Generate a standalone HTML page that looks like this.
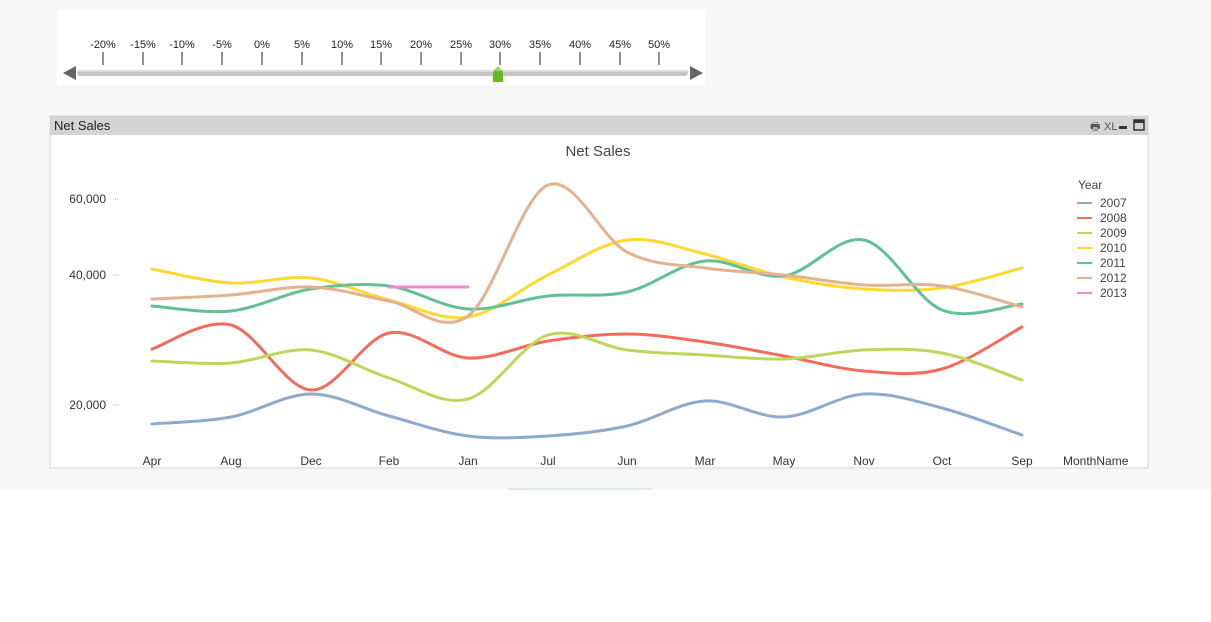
<!DOCTYPE html>
<html><head><meta charset="utf-8"><style>
body{margin:0;width:1211px;height:622px;background:#fff;font-family:"Liberation Sans",sans-serif;position:relative;overflow:hidden}
#bg{position:absolute;left:0;top:0;width:1211px;height:490px;background:#f7f7f7}
svg{position:absolute;left:0;top:0}
</style></head><body>
<div id="bg"></div>
<svg width="1211" height="622" id="s" font-family="Liberation Sans, sans-serif">
<rect x="57" y="10" width="648" height="75" fill="#fff"/>
<g id="sl" font-size="11" fill="#222" text-anchor="middle"></g>
<rect x="77" y="70" width="611" height="6" rx="3" fill="#c4c4c4"/>
<rect x="77" y="70" width="611" height="2" rx="1" fill="#dcdcdc"/>
<polygon points="63,73 76,66 76,80" fill="#666"/>
<polygon points="703,73 690,66 690,80" fill="#666"/>
<polygon points="493,71 498,66 503,71" fill="#9fd37a"/>
<rect x="493" y="71" width="10" height="11" rx="1" fill="#66bb22"/>
<rect x="50" y="116" width="1098" height="352" fill="#fff" stroke="#d6d6d6"/>
<rect x="50" y="116" width="1098" height="19" fill="#d4d4d4"/>
<text x="54" y="130" font-size="13" fill="#222">Net Sales</text>
<text x="1090" y="130" font-size="11" fill="#555">🖶</text>
<text x="1104" y="130" font-size="11" fill="#555">XL</text>
<rect x="1119" y="126" width="8" height="3" fill="#333"/>
<rect x="1134" y="120" width="10" height="10" fill="none" stroke="#333" stroke-width="1.5"/>
<rect x="1134" y="120" width="10" height="3" fill="#333"/>
<text x="598" y="156" font-size="15" fill="#444" text-anchor="middle">Net Sales</text>
<g font-size="12" fill="#333" text-anchor="end">
<text x="106" y="203">60,000</text><text x="106" y="279">40,000</text><text x="106" y="409">20,000</text></g>
<g stroke="#bbb" stroke-dasharray="1,1"><line x1="113" y1="199" x2="118" y2="199"/><line x1="113" y1="275" x2="118" y2="275"/><line x1="113" y1="405" x2="118" y2="405"/></g>
<g id="xl" font-size="12" fill="#333" text-anchor="middle"></g>
<text x="1063" y="465" font-size="12" fill="#333">MonthName</text>
<g id="lines" fill="none" stroke-width="3" stroke-linecap="round"></g>
<g id="leg" font-size="12" fill="#444"></g>
<text x="1078" y="189" font-size="12" fill="#444">Year</text>
<rect x="508" y="488" width="144" height="2" fill="#dde8f3"/>
</svg>
<script>
var NS="http://www.w3.org/2000/svg";
function el(p,t,a,txt){var e=document.createElementNS(NS,t);for(var k in a)e.setAttribute(k,a[k]);if(txt)e.textContent=txt;document.getElementById(p).appendChild(e);}
var tx=[103,143,182,222,262,302,342,381,421,461,500,540,580,620,659];
tx.forEach(function(x,i){el("sl","text",{x:x,y:48},(i*5-20)+"%");el("sl","line",{x1:x,y1:52,x2:x,y2:65,stroke:"#222"});});
var mx=[152,231,311,389,468,548,627,705,784,864,942,1022];
var mn=["Apr","Aug","Dec","Feb","Jan","Jul","Jun","Mar","May","Nov","Oct","Sep"];
mx.forEach(function(x,i){el("xl","text",{x:x,y:465},mn[i]);});
var S=[
["2007","#8eabc9",[424,417,394,416,436,436,426,401,417,394,408,435]],
["2008","#f26c5c",[349,325,390,333,358,341,334,342,356,371,369,327]],
["2009","#bcd85a",[361,363,350,378,399,335,350,355,359,350,353,380]],
["2010","#ffd832",[269,283,278,300,317,275,240,254,277,289,288,268]],
["2011","#62c095",[306,311,289,286,309,296,292,261,276,240,310,304]],
["2012","#e4b28e",[299,295,287,301,316,185,252,268,275,285,286,307]]];
function path(ys){var p=[];ys.forEach(function(y,i){p.push([mx[i],y]);});
var d="M"+p[0][0]+","+p[0][1];
for(var i=0;i<p.length-1;i++){var a=p[i-1]||p[i],b=p[i],c=p[i+1],e=p[i+2]||c;
d+=" C"+(b[0]+(c[0]-a[0])/6)+","+(b[1]+(c[1]-a[1])/6)+" "+(c[0]-(e[0]-b[0])/6)+","+(c[1]-(e[1]-b[1])/6)+" "+c[0]+","+c[1];}
return d;}
S.forEach(function(s){el("lines","path",{d:path(s[2]),stroke:s[1]});});
el("lines","line",{x1:389,y1:287,x2:468,y2:287,stroke:"#f08ad0"});
S.push(["2013","#f08ad0"]);
S.forEach(function(s,i){var y=203+i*15;el("leg","rect",{x:1077,y:y-1,width:15,height:2,fill:s[1]});el("leg","text",{x:1100,y:y+4},s[0]);});
</script>
</body></html>
